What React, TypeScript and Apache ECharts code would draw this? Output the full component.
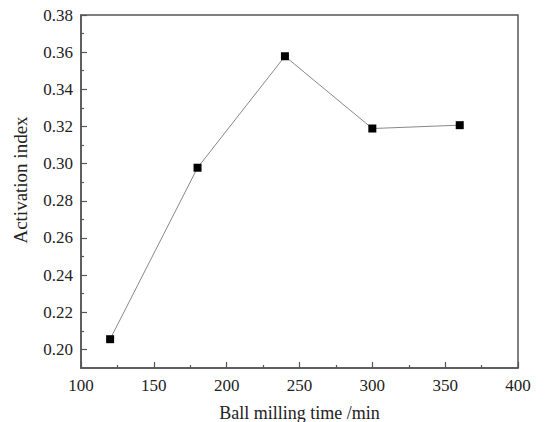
import React, { useEffect, useRef } from "react";
import * as echarts from "echarts";

const millingTimes = [120, 180, 240, 300, 360];
const activationIndex = [0.2055, 0.2978, 0.3578, 0.3189, 0.3207];
const yMajorTicks = [0.2, 0.22, 0.24, 0.26, 0.28, 0.3, 0.32, 0.34, 0.36, 0.38];
const yMinorTicks = [0.21, 0.23, 0.25, 0.27, 0.29, 0.31, 0.33, 0.35, 0.37];

export default function App() {
  const ref = useRef<HTMLDivElement>(null);
  useEffect(() => {
    document.body.style.margin = "0";
    if (!ref.current) return;
    const chart = echarts.init(ref.current, null, { renderer: "svg" });
    const axisColor = "#555";
    const textColor = "#222";
    const font = "'Liberation Serif', 'DejaVu Serif', serif";
    chart.setOption({
      animation: false,
      backgroundColor: "#fff",
      grid: {
        left: 81,
        top: 15,
        right: 27,
        bottom: 54,
        containLabel: false,
        outerBoundsMode: "none",
        show: true,
        borderColor: axisColor,
        borderWidth: 1.5,
        backgroundColor: "transparent",
      },
      graphic: [
        {
          type: "text",
          x: 20,
          y: 180,
          rotation: Math.PI / 2,
          style: {
            text: "Activation index",
            fontFamily: font,
            fontSize: 19,
            fill: textColor,
            textAlign: "center",
            textVerticalAlign: "middle",
          },
        },
      ],
      xAxis: {
        type: "value",
        min: 100,
        max: 400,
        interval: 50,
        name: "Ball milling time /min",
        nameLocation: "middle",
        nameGap: 36,
        nameTextStyle: { fontFamily: font, fontSize: 18, color: textColor },
        axisLine: { show: true, lineStyle: { color: axisColor, width: 1.5 } },
        axisTick: { show: true, inside: true, length: 6, lineStyle: { color: axisColor, width: 1.2 } },
        minorTick: { show: true, splitNumber: 2, length: 3, lineStyle: { color: axisColor, width: 1.2 } },
        axisLabel: { fontFamily: font, fontSize: 17, color: textColor, margin: 9 },
        splitLine: { show: false },
      },
      yAxis: [
        {
          type: "value",
          min: 0.19,
          max: 0.38,
          axisLine: { show: true, lineStyle: { color: axisColor, width: 1.5 } },
          axisTick: {
            show: true,
            inside: true,
            length: 6,
            customValues: yMajorTicks,
            lineStyle: { color: axisColor, width: 1.2 },
          },
          axisLabel: {
            fontFamily: font,
            fontSize: 17,
            color: textColor,
            margin: 8,
            customValues: yMajorTicks,
            formatter: (v: number) => v.toFixed(2),
          },
          splitLine: { show: false },
        },
        {
          type: "value",
          min: 0.19,
          max: 0.38,
          position: "left",
          axisLine: { show: false },
          axisTick: {
            show: true,
            inside: true,
            length: 3,
            customValues: yMinorTicks,
            lineStyle: { color: axisColor, width: 1.2 },
          },
          axisLabel: { show: false },
          splitLine: { show: false },
        },
      ],
      series: [
        {
          type: "line",
          data: millingTimes.map((t, i) => [t, activationIndex[i]]),
          symbol: "rect",
          symbolSize: 8,
          itemStyle: { color: "#000" },
          lineStyle: { color: "#888", width: 1 },
        },
      ],
    });
    return () => chart.dispose();
  }, []);
  return <div ref={ref} style={{ width: 545, height: 422 }} />;
}
